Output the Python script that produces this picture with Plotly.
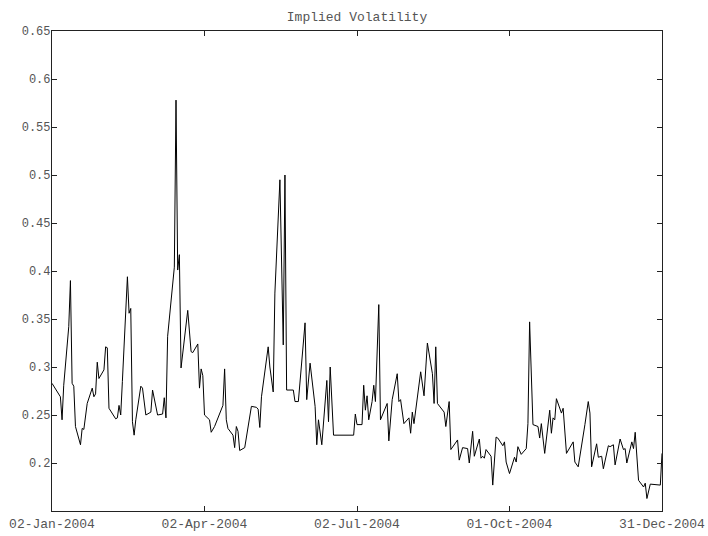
import plotly.graph_objects as go

dates = [
    "2004-01-02", "2004-01-06", "2004-01-07", "2004-01-08", "2004-01-09", "2004-01-12",
    "2004-01-13", "2004-01-14", "2004-01-15", "2004-01-16", "2004-01-19", "2004-01-20",
    "2004-01-21", "2004-01-23", "2004-01-26", "2004-01-27", "2004-01-28", "2004-01-29",
    "2004-01-30", "2004-02-02", "2004-02-03", "2004-02-04", "2004-02-05", "2004-02-09",
    "2004-02-10", "2004-02-11", "2004-02-12", "2004-02-13", "2004-02-16", "2004-02-17",
    "2004-02-18", "2004-02-19", "2004-02-20", "2004-02-21", "2004-02-24", "2004-02-25",
    "2004-02-27", "2004-03-01", "2004-03-02", "2004-03-05", "2004-03-08", "2004-03-09",
    "2004-03-10", "2004-03-11", "2004-03-15", "2004-03-16", "2004-03-17", "2004-03-18",
    "2004-03-19", "2004-03-23", "2004-03-25", "2004-03-26", "2004-03-29", "2004-03-30",
    "2004-03-31", "2004-04-01", "2004-04-02", "2004-04-05", "2004-04-06", "2004-04-08",
    "2004-04-13", "2004-04-14", "2004-04-15", "2004-04-16", "2004-04-19", "2004-04-20",
    "2004-04-21", "2004-04-22", "2004-04-23", "2004-04-26", "2004-04-30", "2004-05-03",
    "2004-05-04", "2004-05-05", "2004-05-06", "2004-05-10", "2004-05-11", "2004-05-13",
    "2004-05-14", "2004-05-17", "2004-05-19", "2004-05-20", "2004-05-21", "2004-05-25",
    "2004-05-26", "2004-05-28", "2004-06-01", "2004-06-02", "2004-06-04", "2004-06-07",
    "2004-06-08", "2004-06-09", "2004-06-11", "2004-06-14", "2004-06-15", "2004-06-16",
    "2004-06-18", "2004-06-30", "2004-07-01", "2004-07-02", "2004-07-05", "2004-07-06",
    "2004-07-07", "2004-07-08", "2004-07-09", "2004-07-11", "2004-07-12", "2004-07-13",
    "2004-07-15", "2004-07-16", "2004-07-20", "2004-07-21", "2004-07-23", "2004-07-26",
    "2004-07-27", "2004-07-28", "2004-07-30", "2004-08-02", "2004-08-03", "2004-08-04",
    "2004-08-05", "2004-08-09", "2004-08-11", "2004-08-13", "2004-08-16", "2004-08-17",
    "2004-08-18", "2004-08-19", "2004-08-23", "2004-08-24", "2004-08-26", "2004-08-27",
    "2004-08-31", "2004-09-01", "2004-09-03", "2004-09-06", "2004-09-07", "2004-09-09",
    "2004-09-10", "2004-09-13", "2004-09-14", "2004-09-15", "2004-09-16", "2004-09-17",
    "2004-09-20", "2004-09-21", "2004-09-23", "2004-09-24", "2004-09-27", "2004-09-28",
    "2004-09-29", "2004-10-01", "2004-10-04", "2004-10-05", "2004-10-06", "2004-10-08",
    "2004-10-11", "2004-10-12", "2004-10-13", "2004-10-15", "2004-10-18", "2004-10-19",
    "2004-10-20", "2004-10-22", "2004-10-25", "2004-10-26", "2004-10-27", "2004-10-28",
    "2004-10-29", "2004-11-01", "2004-11-02", "2004-11-04", "2004-11-05", "2004-11-08",
    "2004-11-09", "2004-11-11", "2004-11-15", "2004-11-17", "2004-11-18", "2004-11-19",
    "2004-11-22", "2004-11-23", "2004-11-25", "2004-11-26", "2004-11-29", "2004-11-30",
    "2004-12-02", "2004-12-03", "2004-12-06", "2004-12-08", "2004-12-09", "2004-12-10",
    "2004-12-13", "2004-12-14", "2004-12-15", "2004-12-17", "2004-12-20", "2004-12-21",
    "2004-12-22", "2004-12-24", "2004-12-30", "2004-12-31",
]

implied_vol = [
    0.283, 0.271, 0.269, 0.245, 0.281, 0.342,
    0.390, 0.283, 0.280, 0.238, 0.219, 0.236,
    0.235, 0.262, 0.278, 0.269, 0.272, 0.305,
    0.288, 0.297, 0.321, 0.320, 0.257, 0.246,
    0.247, 0.260, 0.250, 0.285, 0.394, 0.356,
    0.361, 0.243, 0.229, 0.245, 0.280, 0.278,
    0.250, 0.253, 0.276, 0.250, 0.251, 0.268,
    0.247, 0.332, 0.404, 0.578, 0.401, 0.417,
    0.299, 0.359, 0.316, 0.315, 0.324, 0.278,
    0.298, 0.291, 0.250, 0.245, 0.232, 0.238,
    0.260, 0.298, 0.245, 0.236, 0.229, 0.216,
    0.238, 0.233, 0.213, 0.216, 0.259, 0.258,
    0.256, 0.237, 0.269, 0.321, 0.300, 0.274,
    0.377, 0.495, 0.323, 0.500, 0.276, 0.276,
    0.264, 0.264, 0.346, 0.266, 0.304, 0.259,
    0.219, 0.245, 0.219, 0.286, 0.243, 0.300,
    0.229, 0.229, 0.251, 0.240, 0.240, 0.281,
    0.255, 0.270, 0.245, 0.264, 0.281, 0.264,
    0.365, 0.245, 0.262, 0.223, 0.266, 0.293,
    0.264, 0.266, 0.241, 0.247, 0.231, 0.253,
    0.241, 0.295, 0.270, 0.325, 0.293, 0.262,
    0.321, 0.262, 0.253, 0.238, 0.264, 0.214,
    0.224, 0.203, 0.216, 0.215, 0.200, 0.233,
    0.207, 0.225, 0.205, 0.207, 0.205, 0.214,
    0.207, 0.177, 0.227, 0.226, 0.218, 0.222,
    0.201, 0.189, 0.206, 0.201, 0.217, 0.209,
    0.215, 0.241, 0.347, 0.240, 0.238, 0.226,
    0.241, 0.210, 0.255, 0.231, 0.247, 0.245,
    0.267, 0.252, 0.257, 0.210, 0.213, 0.222,
    0.201, 0.196, 0.240, 0.264, 0.252, 0.196,
    0.220, 0.206, 0.207, 0.194, 0.218, 0.217,
    0.219, 0.198, 0.225, 0.214, 0.215, 0.200,
    0.222, 0.215, 0.232, 0.182, 0.175, 0.179,
    0.163, 0.178, 0.177, 0.210,
]

x_tick_vals = ["2004-01-02", "2004-04-02", "2004-07-02", "2004-10-01", "2004-12-31"]
x_tick_text = ["02-Jan-2004", "02-Apr-2004", "02-Jul-2004", "01-Oct-2004", "31-Dec-2004"]
y_tick_vals = [0.2, 0.25, 0.3, 0.35, 0.4, 0.45, 0.5, 0.55, 0.6, 0.65]
y_tick_text = ["0.2", "0.25", "0.3", "0.35", "0.4", "0.45", "0.5", "0.55", "0.6", "0.65"]

FONT = "Liberation Mono, Courier New, monospace"
TXT = "#555555"

fig = go.Figure()
fig.add_trace(go.Scatter(
    x=dates, y=implied_vol, mode="lines",
    line=dict(color="#000000", width=1),
    showlegend=False, hoverinfo="x+y",
))

fig.update_layout(
    width=708, height=536, autosize=False,
    margin=dict(l=52, r=46, t=31, b=25, pad=0),
    paper_bgcolor="white", plot_bgcolor="white",
    title=dict(text="Implied Volatility", x=0.5, xanchor="center",
               xref="paper", y=1 - 16 / 536, yanchor="middle",
               font=dict(family=FONT, size=13, color=TXT)),
    font=dict(family=FONT, size=13, color=TXT),
)
fig.update_xaxes(
    type="date", range=["2004-01-02", "2004-12-31"], automargin=False,
    tickvals=x_tick_vals, ticktext=x_tick_text,
    ticks="inside", ticklen=5, tickwidth=1, tickcolor="#222222",
    showline=True, linecolor="#222222", linewidth=1.2, mirror="allticks",
    showgrid=False, zeroline=False,
    tickfont=dict(family=FONT, size=13, color=TXT),
)
fig.update_yaxes(
    range=[0.15, 0.65], automargin=False,
    tickvals=y_tick_vals, ticktext=y_tick_text,
    ticks="inside", ticklen=5, tickwidth=1, tickcolor="#222222",
    showline=True, linecolor="#222222", linewidth=1.2, mirror="allticks",
    showgrid=False, zeroline=False, ticklabelstandoff=-2,
    tickfont=dict(family=FONT, size=12, color=TXT),
)

fig.write_html("out.html")
